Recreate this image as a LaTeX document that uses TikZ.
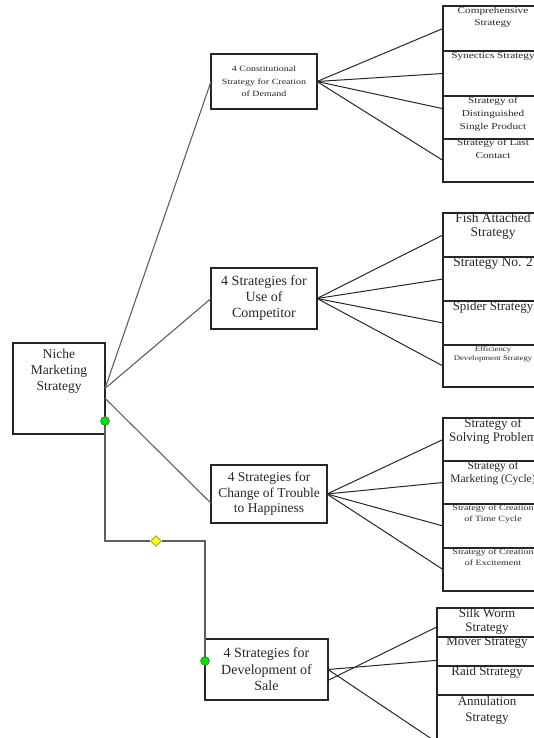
\documentclass[tikz,border=0pt]{standalone}
\usepackage{fontspec}
\setmainfont{Liberation Serif}
\newfontfamily\widetimes[FakeStretch=1.25]{Liberation Serif}
\usepackage{tikz}
\usetikzlibrary{shapes.geometric, positioning, calc}
\definecolor{dotgreen}{RGB}{0,225,0}
\definecolor{markyellow}{RGB}{255,255,0}
\definecolor{linegray}{RGB}{95,95,95}
\newcommand{\fsz}[2]{\fontsize{#1}{#2}\selectfont}

\begin{document}
\begin{tikzpicture}[x=1pt, y=-1pt,
    box/.style={draw=black!85, line width=1.1pt, outer sep=0pt, rectangle, inner sep=2pt, align=center, text=black!85},
    kid/.style={box, anchor=north west, minimum width=100pt},
    kidtext/.style={anchor=north, inner sep=1pt, align=center, text=black!85},
    trunk/.style={draw=linegray, line width=1.1pt},
    twig/.style={draw=black!85, line width=1pt},
    gdot/.style={circle, draw=black!70, fill=dotgreen, minimum size=9pt, inner sep=0pt},
    ymark/.style={diamond, draw=black!70, fill=markyellow, minimum size=11pt, inner sep=0pt}]
    \useasboundingbox (0,0) rectangle (534,738);
    \clip (0,0) rectangle (534,738);

    % root and the four groups
    \node[box, anchor=north west, minimum width=92pt, minimum height=91pt,
          label={[kidtext, yshift=-5pt, font=\fsz{13.5}{16}]north:{Niche\\Marketing\\Strategy}}] (root) at (13,343) {};
    \node[box, anchor=north west, minimum width=106pt, minimum height=55pt,
          font=\widetimes\fsz{8}{12.5}] (b1) at (211,54) {4 Constitutional\\Strategy for Creation\\of Demand};
    \node[box, anchor=north west, minimum width=106pt, minimum height=61pt,
          font=\fsz{14}{16}] (b2) at (211,268) {4 Strategies for\\Use of\\Competitor};
    \node[box, anchor=north west, minimum width=116pt, minimum height=58pt,
          font=\fsz{13.5}{15.5}] (b3) at (211,465) {4 Strategies for\\Change of Trouble\\to Happiness};
    \node[box, anchor=north west, minimum width=123pt, minimum height=61pt,
          font=\fsz{14}{16.5}] (b4) at (205,639) {4 Strategies for\\Development of\\Sale};

    % first group
    \node[kid, minimum height=45pt, label={[kidtext, font=\widetimes\fsz{9}{12}]north:{Comprehensive\\Strategy}}] (k11) at (443,6) {};
    \node[kid, minimum height=45pt, label={[kidtext, font=\widetimes\fsz{9}{12}]north:{Synectics Strategy}}] (k12) at (443,51) {};
    \node[kid, minimum height=43pt, label={[kidtext, font=\widetimes\fsz{9}{13}]north:{Strategy of\\Distinguished\\Single Product}}] (k13) at (443,96) {};
    \node[kid, minimum height=43pt, label={[kidtext, inner sep=0pt, font=\widetimes\fsz{9}{12.5}]north:{Strategy of Last\\Contact}}] (k14) at (443,139) {};

    % second group
    \node[kid, minimum height=44pt, label={[kidtext, inner sep=0pt, font=\fsz{13.5}{13.5}]north:{Fish Attached\\Strategy}}] (k21) at (443,213) {};
    \node[kid, minimum height=44pt, label={[kidtext, inner sep=0pt, font=\fsz{13.5}{14}]north:{Strategy No. 2}}] (k22) at (443,257) {};
    \node[kid, minimum height=44pt, label={[kidtext, inner sep=0pt, font=\fsz{13}{14}]north:{Spider Strategy}}] (k23) at (443,301) {};
    \node[kid, minimum height=42pt, label={[kidtext, font=\widetimes\fsz{7}{9.5}]north:{Efficiency\\Development Strategy}}] (k24) at (443,345) {};

    % third group
    \node[kid, minimum height=43pt, label={[kidtext, inner sep=0pt, font=\fsz{13}{14}]north:{Strategy of\\Solving Problem}}] (k31) at (443,418) {};
    \node[kid, minimum height=43pt, label={[kidtext, inner sep=0pt, font=\fsz{11.5}{13}]north:{Strategy of\\Marketing (Cycle)}}] (k32) at (443,461) {};
    \node[kid, minimum height=44pt, label={[kidtext, font=\widetimes\fsz{8}{10.5}]north:{Strategy of Creation\\of Time Cycle}}] (k33) at (443,504) {};
    \node[kid, minimum height=43pt, label={[kidtext, font=\widetimes\fsz{8}{10.5}]north:{Strategy of Creation\\of Excitement}}] (k34) at (443,548) {};

    % fourth group
    \node[kid, minimum height=29pt, label={[kidtext, inner sep=0pt, font=\fsz{13}{14}]north:{Silk Worm\\Strategy}}] (k41) at (437,608) {};
    \node[kid, minimum height=29pt, label={[kidtext, inner sep=0pt, font=\fsz{13}{14}]north:{Mover Strategy}}] (k42) at (437,637) {};
    \node[kid, minimum height=29pt, label={[kidtext, inner sep=0pt, font=\fsz{13}{14}]north:{Raid Strategy}}] (k43) at (437,666) {};
    \node[kid, minimum height=95pt, label={[kidtext, inner sep=1pt, font=\fsz{13}{16}]north:{Annulation\\Strategy}}] (k44) at (437,695) {};

    % connectors
    \draw[trunk] (root.east) -- (b1.west);
    \draw[trunk] (root.east) -- (b2.west);
    \draw[trunk] (root.-12) -- (b3.189);
    \foreach \k in {k11.west, k12.west, k13.170, k14.west}
        \draw[twig] (b1.east) -- (\k);
    \foreach \k in {k21.west, k22.west, k23.west, k24.west}
        \draw[twig] (b2.east) -- (\k);
    \foreach \k in {k31.west, k32.west, k33.west, k34.west}
        \draw[twig] (b3.east) -- (\k);
    \draw[twig] (b4.-10) -- (k41.185);
    \draw[twig] (b4.east) -- (k42.190);
    \draw[twig] (b4.east) -- (k44.west);

    % elbow with its markers
    \node[gdot] (rdot) at ($(root.south east)+(0,-13)$) {};
    \node[gdot] (sdot) at ($(b4.north west)+(0,22)$) {};
    \node[ymark] (ymk) at (156,541) {};
    \draw[trunk] (rdot) |- (ymk) -| (sdot);
  \end{tikzpicture}
\end{document}
